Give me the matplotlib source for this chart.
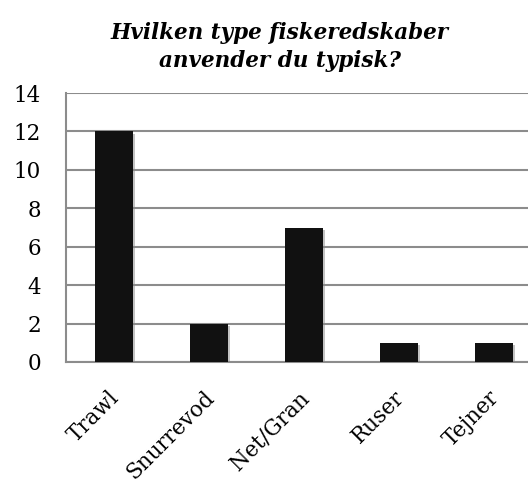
import matplotlib.pyplot as plt
import matplotlib.patheffects as pe
import matplotlib.transforms as mtransforms

categories = ["Trawl", "Snurrevod", "Net/Gran", "Ruser", "Tejner"]
counts = [12, 2, 7, 1, 1]
yticks = [0, 2, 4, 6, 8, 10, 12, 14]

plt.rcParams["font.family"] = "DejaVu Serif"

fig = plt.figure(figsize=(5.28, 4.79), dpi=100)
# the original chart is cut off on the right, so the axes run past the figure edge
ax = fig.add_axes([66 / 528, 1 - 362 / 479, 475 / 528, 269 / 479])

shadow = [pe.SimplePatchShadow(offset=(1.5, -1.5), shadow_rgbFace="#888888", alpha=0.5), pe.Normal()]
bars = ax.bar(range(len(categories)), counts, width=0.4, color="#111111", zorder=3)
for b in bars:
    b.set_path_effects(shadow)

ax.set_xlim(-0.5, len(categories) - 0.5)
ax.set_ylim(0, 14)
ax.set_yticks(yticks)
ax.set_yticklabels([str(t) for t in yticks], fontsize=15.5)
ax.set_xticks(range(len(categories)))
ax.set_xticklabels(categories, fontsize=15.5, rotation=45, ha="right", va="top",
                   rotation_mode="anchor")
ax.tick_params(axis="both", length=0)
ax.tick_params(axis="y", pad=18)
ax.tick_params(axis="x", pad=18)
shift = mtransforms.ScaledTranslation(-5 / 100, 0, fig.dpi_scale_trans)
for lab in ax.get_xticklabels():
    lab.set_transform(lab.get_transform() + shift)

ax.grid(axis="y", color="#8c8c8c", linewidth=1.5, zorder=0)
for s in ["top", "right"]:
    ax.spines[s].set_visible(False)
for s in ["left", "bottom"]:
    ax.spines[s].set_color("#8c8c8c")
    ax.spines[s].set_linewidth(1.5)

fig.text(280 / 528, 1 - 47 / 479, "Hvilken type fiskeredskaber\nanvender du typisk?",
         ha="center", va="center", fontsize=15.5, fontweight="bold", fontstyle="italic",
         linespacing=1.35)

fig.savefig("out.png", dpi=100)
